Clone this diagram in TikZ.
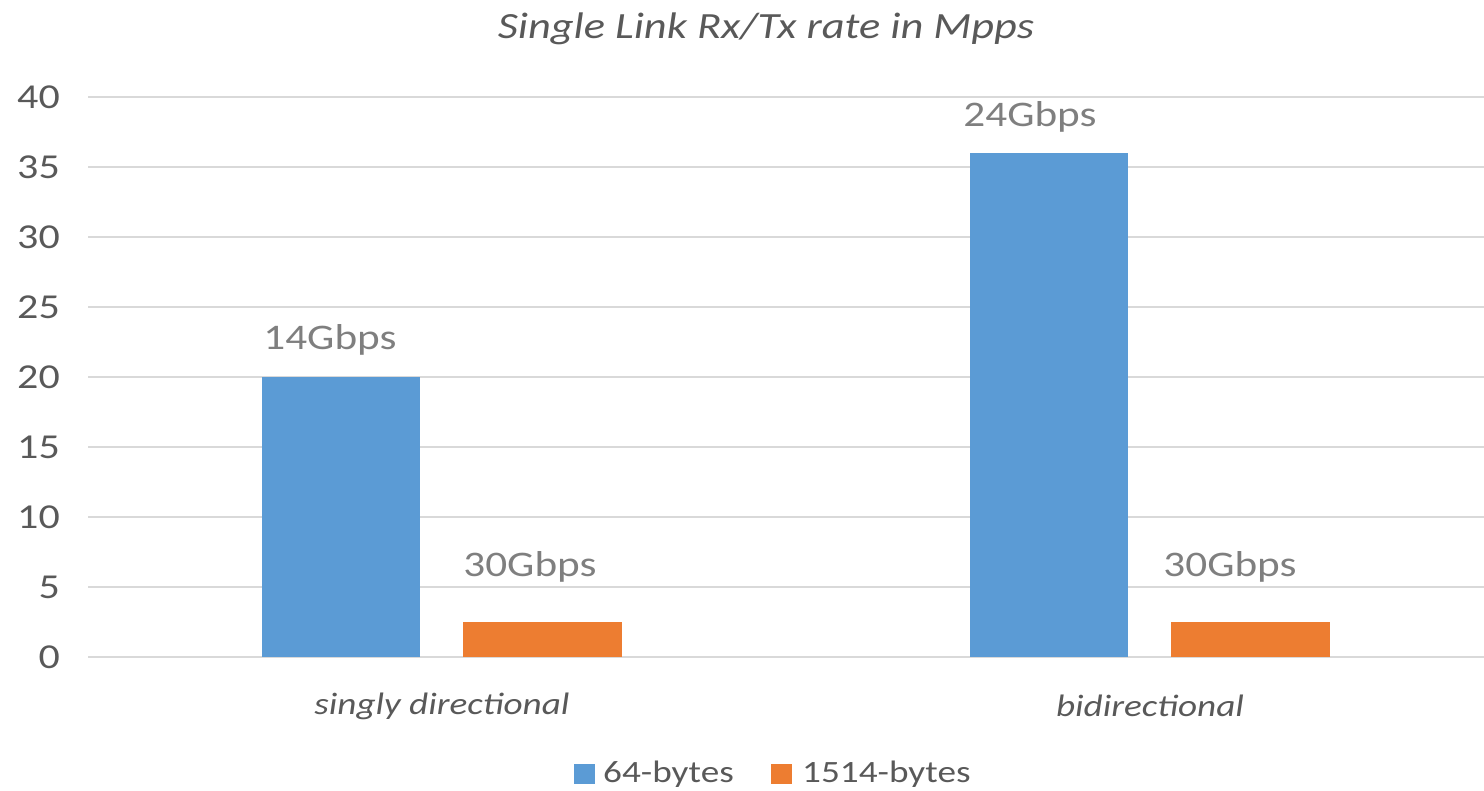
\documentclass[tikz,border=0pt]{standalone}
\usepackage{fontspec}
\setmainfont{Carlito}[FakeStretch=1.2]
\usetikzlibrary{positioning}
\definecolor{barblue}{HTML}{5B9BD5}
\definecolor{barorange}{HTML}{ED7D31}
\definecolor{gridgray}{HTML}{D9D9D9}
\definecolor{txtgray}{HTML}{595959}
\definecolor{lblgray}{HTML}{7F7F7F}
\tikzset{
  ticklbl/.style = {anchor=east, inner sep=0pt, text=txtgray,
    font=\fontsize{35}{40}\selectfont},
  datalbl/.style = {inner sep=0pt, text=lblgray,
    font=\fontsize{36}{40}\selectfont},% valeurs au dessus des barres
  catlbl/.style = {inner sep=0pt, text=txtgray,
    font=\fontsize{31}{36}\selectfont\itshape},
  legendlbl/.style = {anchor=west, inner sep=0pt, text=txtgray,
    font=\fontsize{31}{36}\selectfont},
  gridline/.style = {draw=gridgray, line width=2pt}
}
\begin{document}
\begin{tikzpicture}[x=1pt,y=-1pt]
  \useasboundingbox (0,0) rectangle (1484,791);
  % grille et graduations
  \foreach \v in {0,5,...,40}{
    \coordinate (g\v) at (88,657-14*\v);
    \coordinate (h\v) at (1484,657-14*\v);
    \draw[gridline] (g\v) -- (h\v);
    \node[ticklbl] (t\v) at (60,657-14*\v) {\v};
  }
  % barres
  \fill[barblue]   (262,657) rectangle (420,377);
  \fill[barorange] (463,657) rectangle (622,622);
  \fill[barblue]   (970,657) rectangle (1128,153);
  \fill[barorange] (1171,657) rectangle (1330,622);
  \node[datalbl] (v1) at (330,340) {14Gbps};
  \node[datalbl] (v2) at (530,567) {30Gbps};
  \node[datalbl] (v3) at (1030,117) {24Gbps};
  \node[datalbl] (v4) at (1230,567) {30Gbps};
  % axe des categories
  \node[catlbl] (c1) at (442,706) {singly directional};
  \node[catlbl] (c2) at (1150,706) {bidirectional};
  \node[catlbl, font=\fontsize{37}{42}\selectfont\itshape]
    (title) at (766,29) {Single Link Rx/Tx rate in Mpps};
  % legende
  \fill[barblue] (574,764) rectangle (595,784);
  \node[legendlbl] (l1) at (603,774) {64-bytes};
  \fill[barorange] (771,764) rectangle (792,784);
  \node[legendlbl] (l2) at (802,774) {1514-bytes};
\end{tikzpicture}
\end{document}
